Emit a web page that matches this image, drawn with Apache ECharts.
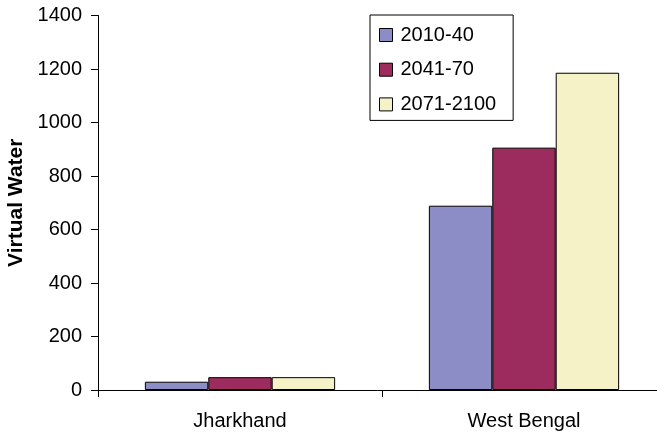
<!DOCTYPE html>
<html>
<head>
<meta charset="utf-8">
<script src="https://cdn.jsdelivr.net/npm/echarts@6/dist/echarts.min.js"></script>
<style>
  html, body { margin: 0; padding: 0; background: #fff; }
  #chart { width: 657px; height: 435px; }
</style>
</head>
<body>
<div id="chart"></div>
<script>
// Virtual water by state for three climate periods
const categories = ['Jharkhand', 'West Bengal'];
const periods = ['2010-40', '2041-70', '2071-2100'];
const values2010_40 = [31, 689];
const values2041_70 = [48, 906];
const values2071_2100 = [48, 1186];
const yTicks = { min: 0, max: 1400, interval: 200 };

const colors = ['#8C8CC6', '#9D2C5E', '#F5F2C8'];
const seriesValues = [values2010_40, values2041_70, values2071_2100];
const font = 'Liberation Sans, Arial, Helvetica, sans-serif';

const chart = echarts.init(document.getElementById('chart'), null, { renderer: 'canvas' });

chart.setOption({
  animation: false,
  backgroundColor: '#ffffff',
  textStyle: { fontFamily: font, color: '#000' },
  grid: { left: 98, right: -9, top: 15.5, bottom: 45, containLabel: false, outerBoundsMode: 'none' },
  legend: {
    orient: 'vertical',
    left: 370,
    top: 15,
    data: periods,
    itemWidth: 13,
    itemHeight: 13,
    itemGap: 14.7,
    padding: [10, 17, 6, 9],
    borderColor: '#000',
    borderWidth: 1,
    backgroundColor: '#fff',
    icon: 'rect',
    textStyle: { fontSize: 20, fontFamily: font, color: '#000', lineHeight: 20, padding: [0, 0, 0, 3] },
    itemStyle: { borderColor: '#000', borderWidth: 1 }
  },
  xAxis: {
    type: 'category',
    data: categories,
    axisLine: { lineStyle: { color: '#000', width: 1 } },
    axisTick: { show: true, alignWithLabel: false, length: 7, lineStyle: { color: '#000' } },
    axisLabel: { fontSize: 20, fontFamily: font, color: '#000', margin: 21 }
  },
  yAxis: {
    type: 'value',
    min: yTicks.min,
    max: yTicks.max,
    interval: yTicks.interval,
    name: 'Virtual Water',
    nameLocation: 'middle',
    nameGap: 71,
    nameRotate: 90,
    nameTextStyle: { fontSize: 21, fontWeight: 'bold', fontFamily: font, color: '#000' },
    axisLine: { show: true, lineStyle: { color: '#000', width: 1 } },
    axisTick: { show: true, length: 7, lineStyle: { color: '#000' } },
    axisLabel: { fontSize: 20, fontFamily: font, color: '#000', margin: 16, formatter: v => String(v) },
    splitLine: { show: false }
  },
  series: periods.map((name, i) => ({
    name: name,
    type: 'bar',
    data: seriesValues[i],
    barGap: '0%',
    barCategoryGap: '33%',
    itemStyle: { color: colors[i], borderColor: '#000', borderWidth: 1 }
  }))
});
</script>
</body>
</html>
